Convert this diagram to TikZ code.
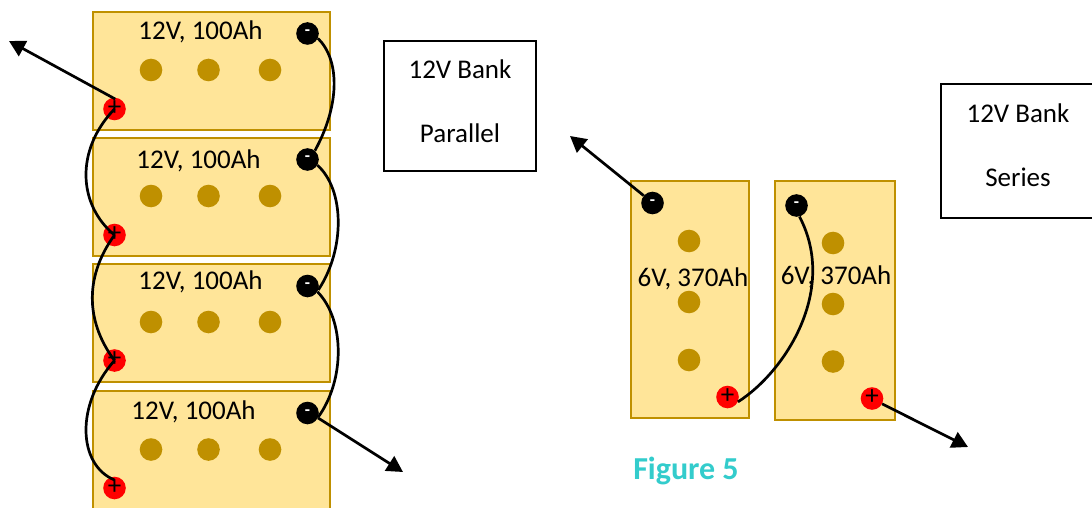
\documentclass[tikz,border=0pt]{standalone}
\usepackage{fontspec}
\setmainfont{Carlito}
\usetikzlibrary{arrows.meta}
\definecolor{batfill}{HTML}{FFE599}
\definecolor{batline}{HTML}{BF9000}
\definecolor{figteal}{HTML}{33CCCC}
\tikzset{
  x=1pt,y=-1pt,
  battery/.style={draw=batline,fill=batfill,line width=2.8pt,rectangle,inner sep=0pt,outer sep=0pt},
  celldot/.style={circle,fill=batline,minimum size=22.6pt,inner sep=0pt},
  posterm/.style={circle,fill=red,minimum size=22.6pt,inner sep=0pt,text=black,font=\fontsize{27}{27}\selectfont},
  negterm/.style={circle,fill=black,minimum size=22.6pt,inner sep=0pt,text=white,font=\bfseries\fontsize{17}{17}\selectfont},
  lbl/.style={inner sep=0pt,font=\fontsize{27}{30}\selectfont,text=black},
  infobox/.style={draw=black,fill=white,line width=2pt,inner sep=0pt,outer sep=0pt},
  wire/.style={draw=black,line width=2.7pt},
  lead/.style={draw=black,line width=2.7pt,-{Triangle[length=16pt,width=17pt]}},
}
\newcommand{\batbox}[5]{\node[battery,minimum width=#3pt,minimum height=#4pt] (#5) at (#1,#2) {};}
\begin{document}
\begin{tikzpicture}
\useasboundingbox (0,0) rectangle (1092,508);
\begin{scope}
\clip (0,0) rectangle (1092,508);
% parallel bank
\batbox{211.5}{71}{237}{118}{b1}
\batbox{211.5}{197}{237}{118}{b2}
\batbox{211.5}{323}{237}{118}{b3}
\batbox{211.5}{451}{237}{120}{b4}
\end{scope}
\foreach \n/\y in {1/70,2/196,3/322,4/449.5}{
  \node[celldot] (d\n a) at (151,\y) {};
  \node[celldot] (d\n b) at (208.5,\y) {};
  \node[celldot] (d\n c) at (270,\y) {};
}
\node[lbl] (l1) at (200.5,32) {12V, 100Ah};
\node[lbl] (l2) at (198.5,161) {12V, 100Ah};
\node[lbl] (l3) at (200.5,282) {12V, 100Ah};
\node[lbl] (l4) at (193.5,412) {12V, 100Ah};
\node[posterm] (p1) at (114.5,109) {\raisebox{2pt}{+}};
\node[posterm] (p2) at (114.5,235) {\raisebox{2pt}{+}};
\node[posterm] (p3) at (114.5,360.5) {\raisebox{2pt}{+}};
\node[posterm] (p4) at (114.5,488) {\raisebox{2pt}{+}};
\node[negterm] (n1) at (307.5,33.5) {\raisebox{1pt}{-}};
\node[negterm] (n2) at (307.5,159.5) {\raisebox{1pt}{-}};
\node[negterm] (n3) at (307.5,286) {\raisebox{1pt}{-}};
\node[negterm] (n4) at (307.5,413) {\raisebox{1pt}{-}};
\coordinate (a1) at (9,41);
\coordinate (a2) at (403,472);
\draw[lead] (p1.60) ++(-5,0) -- (a1);
\draw[lead] (n4.-25) -- (a2);
\draw[wire] (n1.-25) .. controls (340,60) and (340,105) .. (n2.50);
\draw[wire] (n2.-30) .. controls (345,190) and (345,250) .. (n3.-20);
\draw[wire] (n3.-30) .. controls (345,320) and (345,380) .. (n4.-20);
\draw[wire] (p1.center) .. controls (75,150) and (78,205) .. (p2.center);
\draw[wire] (p2.center) .. controls (82,280) and (88,325) .. (p3.center);
\draw[wire] (p3.center) .. controls (75,405) and (78,465) .. ([yshift=8pt]p4.center);
% series bank
\node[battery,minimum width=118pt,minimum height=237pt] (b5) at (690,299.5) {};
\node[battery,minimum width=120pt,minimum height=239pt] (b6) at (835,300.5) {};
\foreach \n/\x/\ya/\yb/\yc in {5/689/241/302/360,6/833/243/304/361.5}{
  \node[celldot] (d\n a) at (\x,\ya) {};
  \node[celldot] (d\n b) at (\x,\yb) {};
  \node[celldot] (d\n c) at (\x,\yc) {};
}
\node[lbl] (l5) at (693,279) {6V, 370Ah};
\node[lbl] (l6) at (836,277) {6V, 370Ah};
\node[negterm] (n5) at (652.5,203) {\raisebox{1pt}{-}};
\node[negterm] (n6) at (796.5,205.5) {\raisebox{1pt}{-}};
\node[posterm] (p5) at (727.5,397) {\raisebox{2pt}{+}};
\node[posterm] (p6) at (872,398.5) {\raisebox{2pt}{+}};
\coordinate (a3) at (570,136);
\coordinate (a4) at (968,447);
\draw[lead] (n5.140) -- (a3);
\draw[lead] (p6.-28) -- (a4);
\draw[wire] (p5.-25) .. controls (785,372) and (838,290) .. (n6.-75);
% text boxes
\node[infobox,minimum width=152pt,minimum height=130pt] (t1) at (460,106) {};
\node[infobox,minimum width=154pt,minimum height=134pt,anchor=west] (t2) at (941,151) {};
\node[lbl] at (460,69) {12V Bank};
\node[lbl] at (460,133) {Parallel};
\node[lbl] at (1018,113) {12V Bank};
\node[lbl] at (1018,177) {Series};
\node[inner sep=0pt,text=figteal,font=\bfseries\fontsize{32}{34}\selectfont] (fig) at (686,471) {Figure 5};
\end{tikzpicture}
\end{document}
